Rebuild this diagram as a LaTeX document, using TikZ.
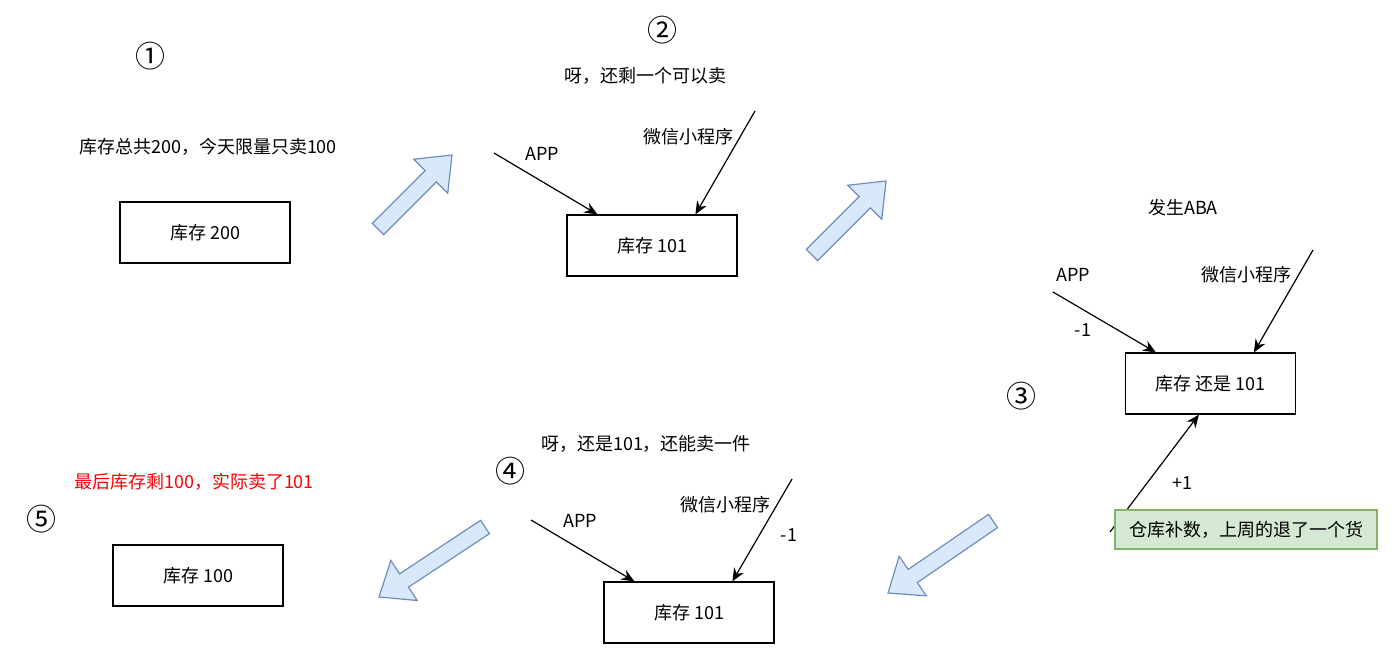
\documentclass[tikz,border=0pt]{standalone}
\usepackage{fontspec}
\setmainfont{Noto Sans CJK SC}
\usetikzlibrary{arrows.meta,calc}
\definecolor{arrowfill}{HTML}{DAE8FC}
\definecolor{arrowline}{HTML}{6C8EBF}
\definecolor{notefill}{HTML}{D5E8D4}
\definecolor{noteline}{HTML}{82B366}
\definecolor{alert}{HTML}{FF0000}

\begin{document}
\begin{tikzpicture}[x=1pt, y=-1pt,
  stockbox/.style={draw, line width=1.2pt, minimum width=170pt, minimum height=61pt,
                   font=\fontsize{18}{20}\selectfont},
  lbl/.style={font=\fontsize{18}{20}\selectfont, inner sep=0pt},
  stepno/.style={font=\fontsize{30}{32}\selectfont, inner sep=0pt},
  flow/.style={line width=1.2pt, -{Stealth[length=13pt, width=11pt]}},
  bigarrow/.style={draw=arrowline, fill=arrowfill, line width=1.2pt, line join=miter}]
  \useasboundingbox (0,0) rectangle (1394,662);

  % stock boxes
  \foreach \name/\x/\y/\lab in {
    stock1/205/232.5/库存 200,
    stock2/652/245.5/库存 101,
    stock3/1210.5/383.5/库存 还是 101,
    stock4/689/612.5/库存 101,
    stock5/198/575.5/库存 100} {
      \node[stockbox] (\name) at (\x,\y) {\lab};
  }

  % block arrows between the steps
  \foreach \tx/\ty/\px/\py in {378/229/452/155, 812/255/886/181, 993/521/888/593, 485/527/379/597} {
    \coordinate (tail) at (\tx,\ty);
    \coordinate (tip) at (\px,\py);
    \coordinate (head) at ($(tip)!30pt!(tail)$);
    \draw[bigarrow] ($(tail)!8pt!90:(tip)$) -- ($(head)!8pt!90:(tip)$)
      -- ($(head)!24pt!90:(tip)$) -- (tip) -- ($(head)!24pt!-90:(tip)$)
      -- ($(head)!8pt!-90:(tip)$) -- ($(tail)!8pt!-90:(tip)$) -- cycle;
  }

  % step numbers
  \node[stepno] (n1) at (150,56) {①};
  \node[stepno] (n2) at (662,30) {②};
  \node[stepno] (n3) at (1021,396) {③};
  \node[stepno] (n4) at (510,471) {④};
  \node[stepno] (n5) at (41,519) {⑤};

  % notes
  \node[lbl] (note1) at (208,147) {库存总共200，今天限量只卖100};
  \node[lbl] (note2) at (645,76) {呀，还剩一个可以卖};
  \node[lbl] (note3) at (1183,208) {发生ABA};
  \node[lbl] (note4) at (646,444) {呀，还是101，还能卖一件};
  \node[lbl, text=alert] (note5) at (194,482) {最后库存剩100，实际卖了101};

  % channel labels
  \node[lbl] (appl2) at (542,154) {APP};
  \node[lbl] (wxl2) at (688,137) {微信小程序};
  \node[lbl] (appl3) at (1073,275) {APP};
  \node[lbl] (wxl3) at (1246,275) {微信小程序};
  \node[lbl] (appl4) at (580,521) {APP};
  \node[lbl] (wxl4) at (725,505) {微信小程序};
  \node[lbl] (minus3) at (1083,330) {-1};
  \node[lbl] (minus4) at (789,535) {-1};
  \node[lbl] (plus3) at (1182,483) {+1};

  % channel connectors
  \coordinate (app2) at (494,153);
  \coordinate (wx2) at (755,111);
  \coordinate (app3) at (1053,292);
  \coordinate (wx3) at (1313,250);
  \coordinate (app4) at (531,520);
  \coordinate (wx4) at (792,479);
  \coordinate (refill) at (1110,532);
  \foreach \i in {2,3,4} {
    \draw[flow] (app\i) -- ($(stock\i.north west)+(31,0)$);
    \draw[flow] (wx\i) -- ($(stock\i.north west)+(129,0)$);
  }
  \draw[flow] (refill) -- ($(stock3.south west)+(74,0)$);

  \node[draw=noteline, fill=notefill, line width=1.2pt, minimum width=262pt, minimum height=39pt,
        font=\fontsize{18}{20}\selectfont] (restock) at (1246,529.5) {仓库补数，上周的退了一个货};
\end{tikzpicture}
\end{document}
